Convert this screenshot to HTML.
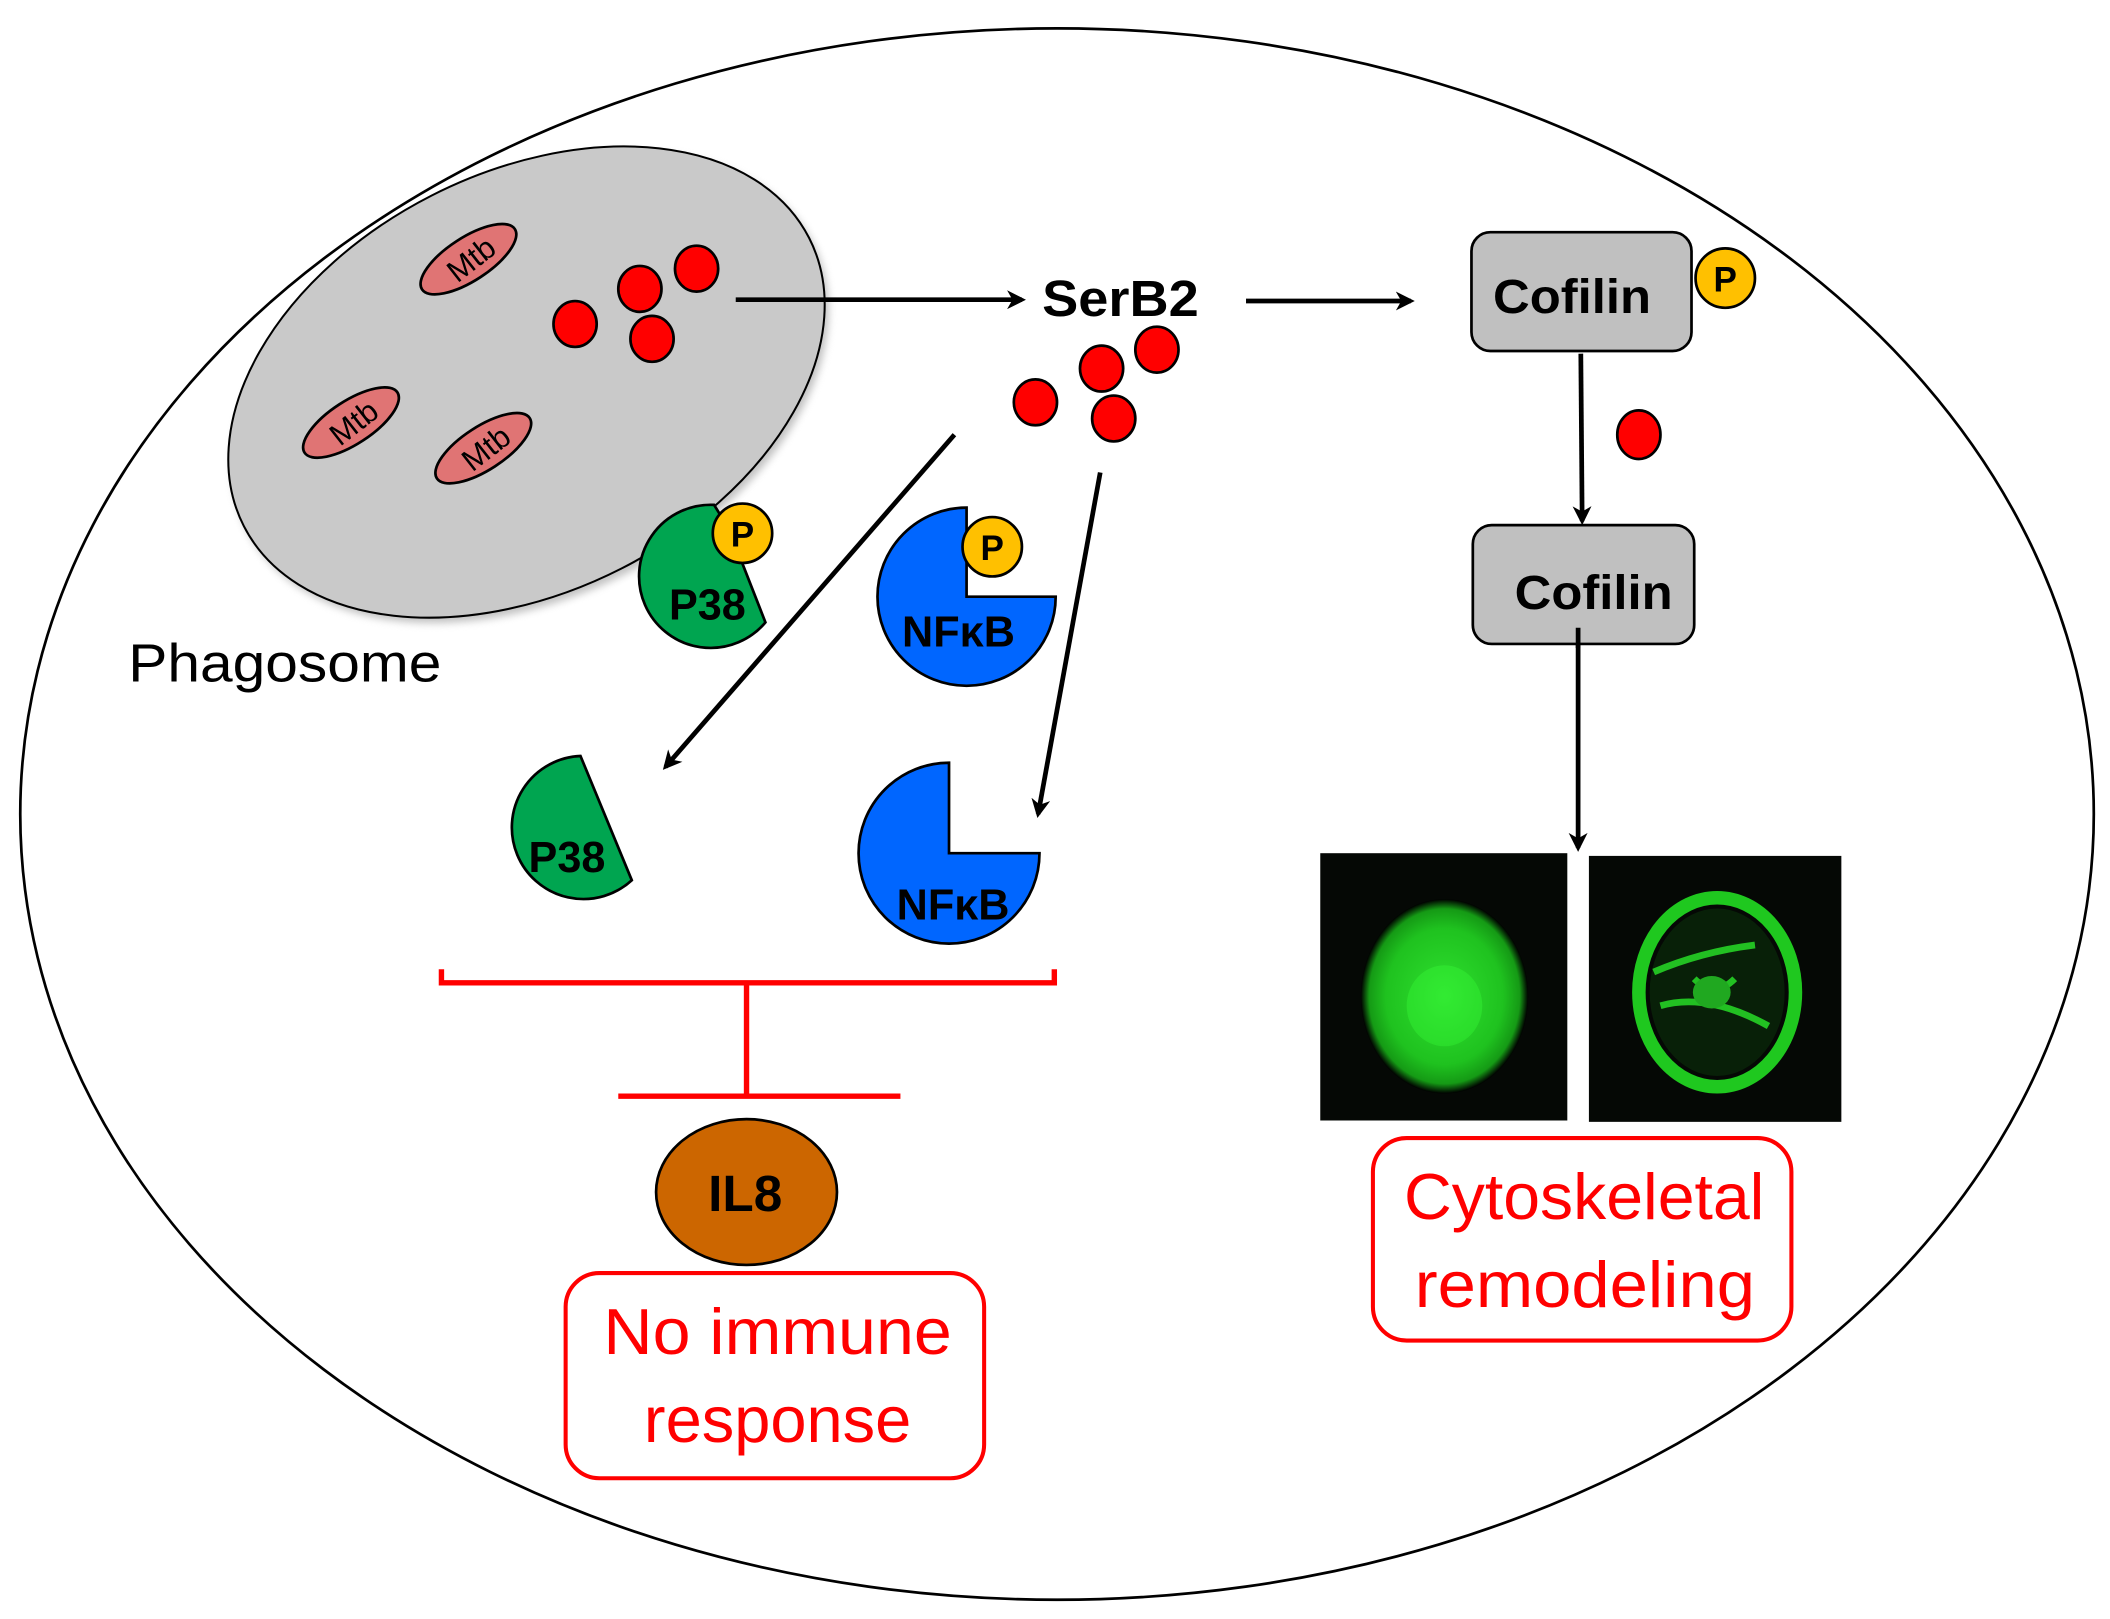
<!DOCTYPE html>
<html><head><meta charset="utf-8"><style>
html,body{margin:0;padding:0;background:#fff;}
svg{display:block;}
text{font-family:"Liberation Sans",sans-serif;}
</style></head><body>
<svg width="2110" height="1619" viewBox="0 0 1563 1199.26" preserveAspectRatio="none" xmlns="http://www.w3.org/2000/svg">
<defs>
<marker id="ah" markerWidth="14" markerHeight="14" refX="11" refY="7" orient="auto" markerUnits="userSpaceOnUse">
<path d="M0,0 L14,7 L0,14 L4,7 Z" fill="#000"/>
</marker>
<filter id="sh" x="-10%" y="-10%" width="120%" height="120%"><feGaussianBlur stdDeviation="3"/></filter>
<radialGradient id="g1" cx="50%" cy="50%" r="50%">
<stop offset="0" stop-color="#2fe02f"/><stop offset="0.7" stop-color="#1fc21f"/><stop offset="0.9" stop-color="#159a15"/><stop offset="1" stop-color="#000"/>
</radialGradient>
</defs>
<ellipse cx="783" cy="603" rx="768" ry="582" fill="#fff" stroke="#000" stroke-width="2"/>
<ellipse cx="393" cy="287" rx="235" ry="155" transform="rotate(-27 393 287)" fill="#999" filter="url(#sh)" opacity="0.6"/>
<ellipse cx="390" cy="283" rx="235" ry="155" transform="rotate(-27 390 283)" fill="#c9c9c9" stroke="#000" stroke-width="1.5"/>
<g stroke="#000" stroke-width="2" fill="#e07474">
<ellipse cx="347" cy="192" rx="41" ry="16" transform="rotate(-33 347 192)"/>
<ellipse cx="260" cy="313" rx="41" ry="16" transform="rotate(-33 260 313)"/>
<ellipse cx="358" cy="332" rx="41" ry="16" transform="rotate(-33 358 332)"/>
</g>
<g font-size="23" text-anchor="middle" fill="#000">
<text x="349" y="200" transform="rotate(-38 349 192)">Mtb</text>
<text x="262" y="321" transform="rotate(-38 262 313)">Mtb</text>
<text x="360" y="340" transform="rotate(-38 360 332)">Mtb</text>
</g>
<g fill="#ff0000" stroke="#000" stroke-width="2">
<ellipse cx="474" cy="214" rx="16" ry="17"/><ellipse cx="516" cy="199" rx="16" ry="17"/>
<ellipse cx="426" cy="240" rx="16" ry="17"/><ellipse cx="483" cy="251" rx="16" ry="17"/>
<ellipse cx="857" cy="259" rx="16" ry="17"/><ellipse cx="816" cy="273" rx="16" ry="17"/>
<ellipse cx="767" cy="298" rx="16" ry="17"/><ellipse cx="825" cy="310" rx="16" ry="17"/>
<ellipse cx="1214" cy="322" rx="16" ry="18"/>
</g>
<text x="95" y="505" font-size="40" textLength="232" lengthAdjust="spacingAndGlyphs">Phagosome</text>
<g stroke="#000" stroke-width="3.5" fill="none" marker-end="url(#ah)">
<line x1="545" y1="222" x2="757" y2="222"/>
<line x1="923" y1="223" x2="1045" y2="223"/>
<line x1="1171" y1="262" x2="1172" y2="386"/>
<line x1="1169" y1="465" x2="1169" y2="628"/>
<line x1="707" y1="322" x2="493" y2="568"/>
<line x1="815" y1="350" x2="769" y2="603"/>
</g>
<text x="772" y="234" font-size="38" font-weight="bold" textLength="116" lengthAdjust="spacingAndGlyphs">SerB2</text>
<rect x="1090" y="172" width="163" height="88" rx="14" fill="#c0c0c0" stroke="#000" stroke-width="2"/>
<text x="1106" y="232" font-size="36" font-weight="bold" textLength="117" lengthAdjust="spacingAndGlyphs">Cofilin</text>
<circle cx="1278" cy="206" r="22" fill="#ffc000" stroke="#000" stroke-width="2"/>
<text x="1278" y="216" font-size="26" font-weight="bold" text-anchor="middle">P</text>
<rect x="1091" y="389" width="164" height="88" rx="14" fill="#c0c0c0" stroke="#000" stroke-width="2"/>
<text x="1122" y="451" font-size="36" font-weight="bold" textLength="117" lengthAdjust="spacingAndGlyphs">Cofilin</text>
<line x1="1169" y1="465" x2="1169" y2="480" stroke="#000" stroke-width="3.5"/>
<rect x="978" y="632" width="183" height="198" fill="#050805"/>
<rect x="1177" y="634" width="187" height="197" fill="#050805"/>
<ellipse cx="1070" cy="738" rx="62" ry="72" fill="url(#g1)"/>
<ellipse cx="1070" cy="745" rx="28" ry="30" fill="#3aff3a" opacity="0.35"/>
<ellipse cx="1272" cy="735" rx="58" ry="70" fill="none" stroke="#1fc81f" stroke-width="10"/>
<ellipse cx="1272" cy="735" rx="50" ry="62" fill="#0a300a" opacity="0.6"/>
<path d="M1225,720 Q1260,705 1300,700 M1230,745 Q1265,735 1310,760 M1255,725 Q1270,740 1285,725" stroke="#22c022" stroke-width="5" fill="none"/>
<ellipse cx="1268" cy="735" rx="14" ry="12" fill="#20a820"/>
<rect x="1017" y="843" width="310" height="150" rx="25" fill="#fff" stroke="#ff0000" stroke-width="3"/>
<text x="1040" y="903" font-size="48" fill="#ff0000" textLength="267" lengthAdjust="spacingAndGlyphs">Cytoskeletal</text>
<text x="1048" y="968" font-size="48" fill="#ff0000" textLength="252" lengthAdjust="spacingAndGlyphs">remodeling</text>
<rect x="419" y="943" width="310" height="152" rx="25" fill="#fff" stroke="#ff0000" stroke-width="3"/>
<text x="447" y="1003" font-size="48" fill="#ff0000" textLength="258" lengthAdjust="spacingAndGlyphs">No immune</text>
<text x="477" y="1068" font-size="48" fill="#ff0000" textLength="198" lengthAdjust="spacingAndGlyphs">response</text>
<ellipse cx="553" cy="883" rx="67" ry="54" fill="#cc6600" stroke="#000" stroke-width="2"/>
<text x="552" y="897" font-size="38" font-weight="bold" text-anchor="middle">IL8</text>
<g stroke="#ff0000" stroke-width="4" fill="none">
<path d="M327,718 L327,728 L781,728 L781,718"/>
<line x1="553" y1="728" x2="553" y2="812"/>
<line x1="458" y1="812" x2="667" y2="812"/>
</g>
<path d="M529,374 L540,392 L567,461 A53,53 0 1 1 529,374 Z" fill="#00a550" stroke="#000" stroke-width="2"/>
<circle cx="550" cy="395" r="22" fill="#ffc000" stroke="#000" stroke-width="2"/>
<text x="550" y="405" font-size="26" font-weight="bold" text-anchor="middle">P</text>
<text x="524" y="459" font-size="32" font-weight="bold" text-anchor="middle">P38</text>
<path d="M430,560 L468,652 A53,53 0 1 1 430,560 Z" fill="#00a550" stroke="#000" stroke-width="2"/>
<text x="420" y="646" font-size="32" font-weight="bold" text-anchor="middle">P38</text>
<path d="M716,376 L716,442 L782,442 A66,66 0 1 1 716,376 Z" fill="#0066ff" stroke="#000" stroke-width="2"/>
<circle cx="735" cy="405" r="22" fill="#ffc000" stroke="#000" stroke-width="2"/>
<text x="735" y="415" font-size="26" font-weight="bold" text-anchor="middle">P</text>
<text x="710" y="479" font-size="32" font-weight="bold" text-anchor="middle">NFκB</text>
<path d="M703,565 L703,632 L770,632 A67,67 0 1 1 703,565 Z" fill="#0066ff" stroke="#000" stroke-width="2"/>
<text x="706" y="681" font-size="32" font-weight="bold" text-anchor="middle">NFκB</text>
</svg>
</body></html>
